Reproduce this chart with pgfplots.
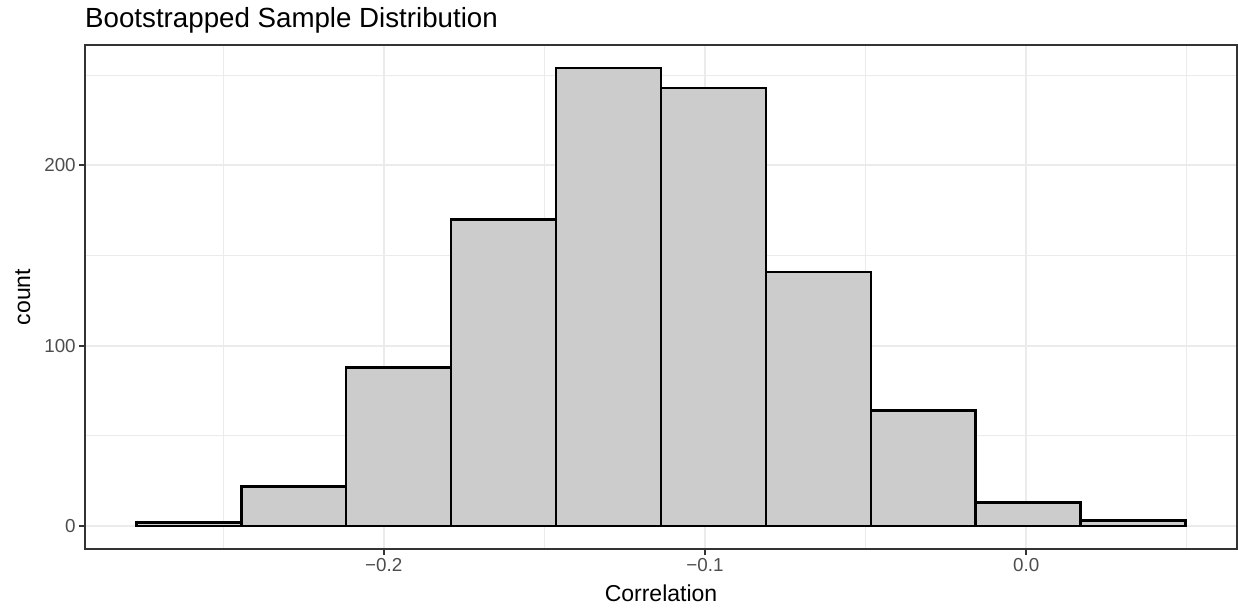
\documentclass[border=0pt]{standalone}
\usepackage{fontspec}
\setmainfont{Liberation Sans}
\usepackage{pgfplots}
\pgfplotsset{compat=1.18}
\definecolor{grey92}{HTML}{EBEBEB}
\definecolor{grey20}{HTML}{333333}
\definecolor{grey30}{HTML}{4D4D4D}
\definecolor{grey80}{HTML}{CCCCCC}

\begin{document}
\begin{tikzpicture}
\useasboundingbox (0,0) rectangle (1238pt,608pt);
\begin{axis}[
  at={(85pt,59pt)}, anchor=south west,
  scale only axis, width=1152pt, height=504pt,
  xmin=-0.2930, xmax=0.0656,
  ymin=-12.7, ymax=266.7,
  axis line style={color=grey20, line width=2pt},
  xtick={-0.2,-0.1,0}, xticklabels={−0.2,−0.1,0.0},
  minor xtick={-0.25,-0.15,-0.05,0.05},
  ytick={0,100,200}, yticklabels={0,100,200},
  minor ytick={50,150,250},
  xtick pos=bottom, ytick pos=left,
  tick align=outside,
  major tick length=5.8pt, minor tick length=0pt,
  major tick style={color=grey20, line width=2pt},
  grid=both,
  major grid style={color=grey92, line width=2.2pt},
  minor grid style={color=grey92, line width=1.1pt},
  tick label style={font=\fontsize{18.8}{20}\selectfont, text=grey30},
  title={Bootstrapped Sample Distribution},
  title style={at={(axis description cs:0,1)}, anchor=base west, inner sep=0pt, yshift=11pt, font=\fontsize{27.7}{30}\selectfont},
  xlabel={Correlation},
  xlabel style={at={(axis description cs:0.5,-0.1032)}, anchor=base, font=\fontsize{23}{25}\selectfont},
  ylabel={count},
  ylabel style={at={(axis description cs:-0.0541,0.5)}, anchor=center, font=\fontsize{23}{25}\selectfont},
]
\addplot[ybar interval, fill=grey80, draw=black, line width=2.4pt] coordinates {
  (-0.2770,2) (-0.2443,22) (-0.2117,88) (-0.1790,170) (-0.1464,254)
  (-0.1137,243) (-0.0811,141) (-0.0484,64) (-0.0158,13) (0.0169,3)
  (0.0496,3)
};
\end{axis}
\end{tikzpicture}
\end{document}
